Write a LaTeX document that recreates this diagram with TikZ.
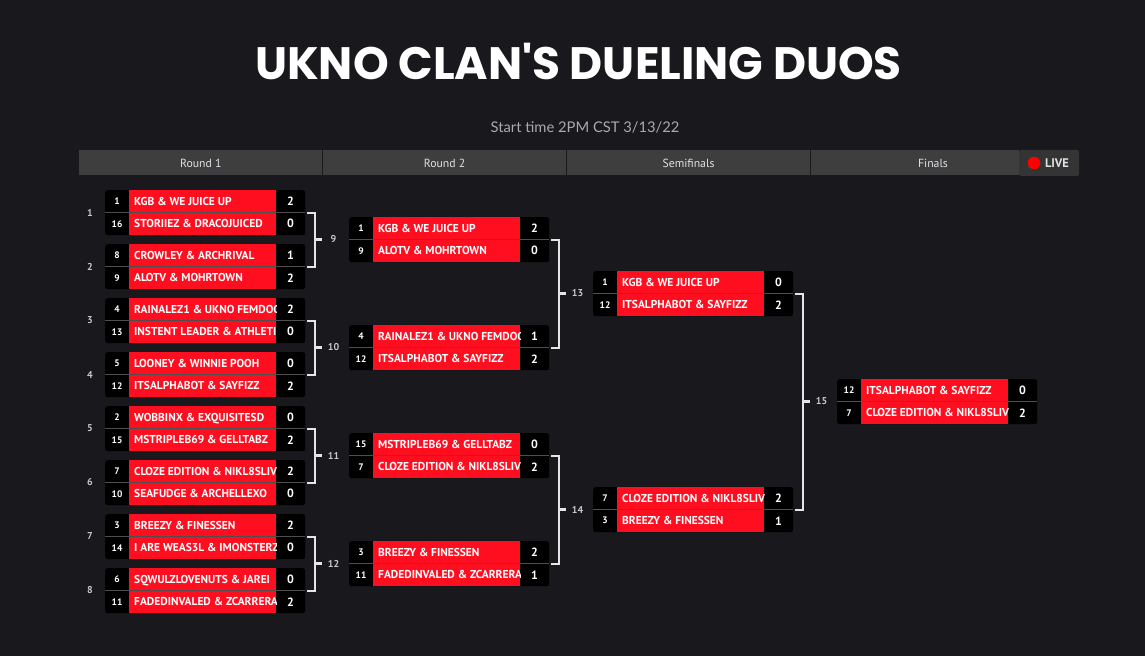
\documentclass[tikz,border=0pt]{standalone}
\usepackage{fontspec}
\setmainfont{PT Sans}
\newfontfamily\titlefont{Poppins}
\newfontfamily\subfont{Lato}
\usetikzlibrary{positioning}

\definecolor{pagebg}{RGB}{25,25,29}
\definecolor{barbg}{RGB}{62,62,62}
\definecolor{livebg}{RGB}{52,52,52}
\definecolor{teamred}{RGB}{255,14,32}
\definecolor{rowgray}{RGB}{78,78,78}
\definecolor{inkgray}{RGB}{200,200,200}
\definecolor{headink}{RGB}{222,226,230}

% one match: name, x, y (top left), seed/team/score of both rows
\newcommand{\duel}[9]{%
  \node[matchbox] (#1) at (#2,#3) {};
  \begin{scope}[shift={(#2,#3)}]
    \fill[teamred] (24,0) rectangle (171,45);
    \draw[rowgray, line width=1bp] (0,22.5) -- (200,22.5);
    \node[seed] (#1-sa) at (12,11.25) {#4};
    \node[seed] (#1-sb) at (12,33.75) {#7};
    \node[score] (#1-pa) at (185.5,11.25) {#6};
    \node[score] (#1-pb) at (185.5,33.75) {#9};
    \begin{scope}
      \clip (24,0) rectangle (171,45);
      \node[team] (#1-ta) at (29,11.25) {#5};
      \node[team] (#1-tb) at (29,33.75) {#8};
    \end{scope}
  \end{scope}}

\begin{document}
\begin{tikzpicture}[
    x=1bp, y=-1bp,
    matchbox/.style={
        fill=black,
        rounded corners=2.5bp,
        minimum width=200bp,
        minimum height=45bp,
        inner sep=0pt,
        anchor=north west
    },
    seed/.style={font=\bfseries\fontsize{9.5}{9}\selectfont, text=white, inner sep=0pt},
    score/.style={font=\bfseries\fontsize{12}{12}\selectfont, text=white, inner sep=0pt},
    team/.style={
        font=\bfseries\fontsize{11.5}{12}\selectfont,
        text=white, anchor=west, inner sep=0pt,
        text height=8.2bp, text depth=0pt
    },
    mnum/.style={font=\bfseries\fontsize{10}{10}\selectfont, text=inkgray, inner sep=0pt},
    headlabel/.style={font=\fontsize{11.8}{12}\selectfont, text=headink, inner sep=0pt},
    bracket/.style={draw=white!90!black, line width=2.2bp}
]
    \path[fill=pagebg, use as bounding box] (0,0) rectangle (1145,656);

    % Titel und Startzeit
    \node[font=\titlefont\bfseries\fontsize{45.6}{46}\selectfont, text=white] (title) at (578.5,61) {UKNO CLAN'S DUELING DUOS};
    \node[font=\subfont\fontsize{14.8}{15}\selectfont, text=inkgray!85!black] (start) at (585,127) {Start time 2PM CST 3/13/22};

    % Kopfleiste der Runden
    \fill[barbg] (79,150) rectangle (1019,175);
    \foreach \x in {322.5,566.5,810.5}
        \draw[pagebg, line width=1.5bp] (\x,150) -- (\x,175);
    \node[headlabel] (head1) at (200.75,163) {Round 1};
    \node[headlabel] (head2) at (444.5,163) {Round 2};
    \node[headlabel] (head3) at (688.5,163) {Semifinals};
    \node[headlabel] (head4) at (933,163) {Finals};

    % LIVE-Marke
    \fill[livebg, rounded corners=2bp] (1019,150) rectangle (1079,176);
    \fill[red] (1034,163) circle (6.3bp);
    \node[font=\bfseries\fontsize{12.5}{12}\selectfont, text=headink, inner sep=0pt] (live) at (1057,163) {LIVE};

    % Runde 1
    \duel{m1}{105}{190}{1}{KGB \& WE JUICE UP}{2}{16}{STORIIEZ \& DRACOJUICED}{0}
    \duel{m2}{105}{244}{8}{CROWLEY \& ARCHRIVAL}{1}{9}{ALOTV \& MOHRTOWN}{2}
    \duel{m3}{105}{298}{4}{RAINALEZ1 \& UKNO FEMDOG}{2}{13}{INSTENT LEADER \& ATHLETI}{0}
    \duel{m4}{105}{352}{5}{LOONEY \& WINNIE POOH}{0}{12}{ITSALPHABOT \& SAYFIZZ}{2}
    \duel{m5}{105}{406}{2}{WOBBINX \& EXQUISITESD}{0}{15}{MSTRIPLEB69 \& GELLTABZ}{2}
    \duel{m6}{105}{460}{7}{CLOZE EDITION \& NIKL8SLIV}{2}{10}{SEAFUDGE \& ARCHELLEXO}{0}
    \duel{m7}{105}{514}{3}{BREEZY \& FINESSEN}{2}{14}{I ARE WEAS3L \& IMONSTERZ}{0}
    \duel{m8}{105}{568}{6}{SQWULZLOVENUTS \& JAREI}{0}{11}{FADEDINVALED \& ZCARRERA}{2}

    % Spielnummern links
    \foreach \i in {1,...,8}
        \node[mnum] (n\i) at (90,{212.5+54*(\i-1)}) {\i};

    % Runde 2
    \duel{m9}{349}{217}{1}{KGB \& WE JUICE UP}{2}{9}{ALOTV \& MOHRTOWN}{0}
    \duel{m10}{349}{325}{4}{RAINALEZ1 \& UKNO FEMDOG}{1}{12}{ITSALPHABOT \& SAYFIZZ}{2}
    \duel{m11}{349}{433}{15}{MSTRIPLEB69 \& GELLTABZ}{0}{7}{CLOZE EDITION \& NIKL8SLIV}{2}
    \duel{m12}{349}{541}{3}{BREEZY \& FINESSEN}{2}{11}{FADEDINVALED \& ZCARRERA}{1}

    % Halbfinale
    \duel{m13}{593}{271}{1}{KGB \& WE JUICE UP}{0}{12}{ITSALPHABOT \& SAYFIZZ}{2}
    \duel{m14}{593}{487}{7}{CLOZE EDITION \& NIKL8SLIV}{2}{3}{BREEZY \& FINESSEN}{1}

    % Finale
    \duel{m15}{837}{379}{12}{ITSALPHABOT \& SAYFIZZ}{0}{7}{CLOZE EDITION \& NIKL8SLIV}{2}

    % Klammern zwischen den Runden
    \foreach \a/\b/\n/\x/\y in {m1/m2/9/315/239.5, m3/m4/10/315/347.5,
                              m5/m6/11/315/455.5, m7/m8/12/315/563.5,
                              m9/m10/13/559/293.5, m11/m12/14/559/509.5,
                              m13/m14/15/803/401.5} {
        \coordinate (b\n) at (\x,\y);
        \coordinate (t\n) at (\x+7,\y);
        \node[mnum] (n\n) at (\x+18.5,\y) {\n};
        \draw[bracket] ([xshift=2bp]\a.east) -| (b\n) |- ([xshift=2bp]\b.east);
        \draw[bracket] (b\n) -- (t\n);
    }
\end{tikzpicture}
\end{document}
